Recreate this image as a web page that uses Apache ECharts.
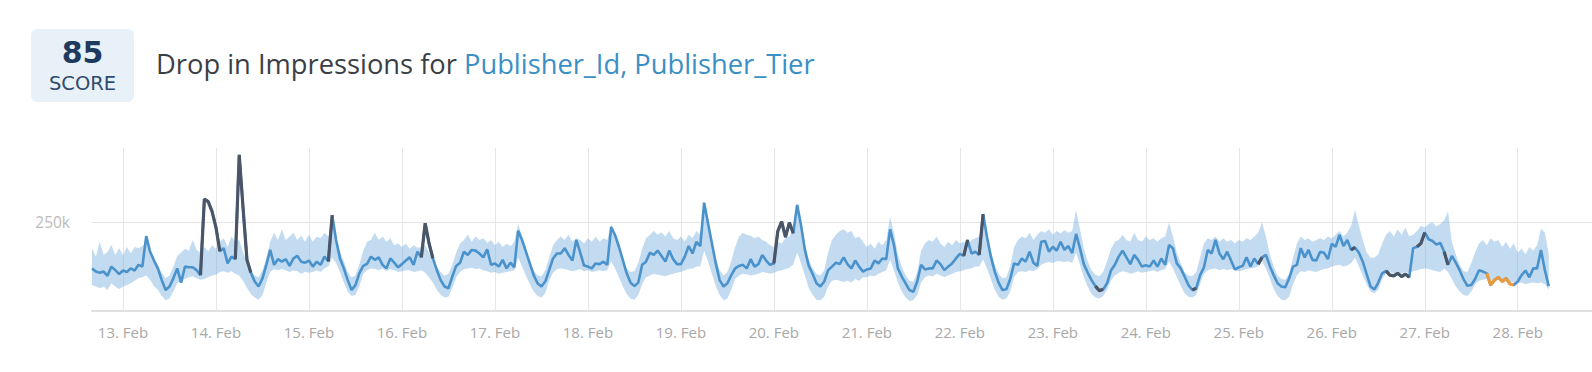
<!DOCTYPE html>
<html>
<head>
<meta charset="utf-8">
<script src="https://cdn.jsdelivr.net/npm/echarts@6/dist/echarts.min.js"></script>
<style>
html,body{margin:0;padding:0;background:#fff;}
#c{width:1592px;height:372px;}
</style>
</head>
<body>
<div id="c"></div>
<script>
// Hourly series, starting 12 Feb 16:00, values in thousands
const startTime = new Date(2024, 1, 12, 16, 0, 0).getTime();
const endTime = new Date(2024, 1, 28, 19, 10, 0).getTime();
const HOUR = 3600000;

const impressions = [
120,111,108,111,99,125,115,104,114,110,120,114,130,125,211,167,142,120,87,59,69,92,120,80,
125,123,123,115,101,315,308,280,235,168,177,134,153,146,440,289,144,108,83,69,92,130,172,130,
146,139,146,127,148,155,139,136,142,125,139,130,153,140,270,200,148,120,87,59,73,106,127,133,
153,144,151,130,120,148,136,123,132,142,151,130,167,151,247,190,148,115,87,69,64,97,127,136,
167,158,172,170,162,151,174,130,134,125,144,120,136,123,226,200,167,134,101,78,69,83,115,148,
162,162,177,158,142,200,165,128,125,120,134,132,139,130,236,214,181,144,106,80,70,80,130,139,
164,158,170,155,139,170,146,132,132,153,183,162,195,183,305,247,191,134,87,69,78,101,120,127,
130,120,146,125,132,158,142,130,134,224,252,208,249,219,299,242,172,127,104,78,69,83,115,125,
136,132,151,132,120,142,125,111,117,120,142,134,148,146,230,186,120,97,78,59,54,83,130,117,
120,120,142,132,115,125,134,148,161,155,200,162,167,158,273,209,153,111,80,59,61,90,134,130,
148,139,167,136,127,195,197,167,181,170,195,172,183,163,217,177,132,108,87,70,57,61,78,114,
130,153,170,151,132,158,144,125,129,125,142,125,148,130,186,177,134,120,97,73,59,64,101,123,
172,162,200,162,146,167,142,117,123,127,151,125,148,132,151,158,127,101,78,69,67,92,125,130,
177,151,172,144,142,167,164,146,189,181,214,183,200,172,179,164,139,104,69,61,80,106,113,101,
99,106,97,104,95,177,181,190,221,202,197,187,192,167,130,155,136,115,90,71,73,90,115,111,
106,73,87,95,83,92,76,73,83,101,114,95,120,120,172,115,70
];

const bandUpper = [
177,153,195,158,167,186,158,177,158,180,162,180,177,183,192,175,150,128,108,92,100,125,155,165,
175,170,200,172,165,180,168,185,175,195,205,180,210,195,200,165,140,115,100,95,115,150,195,220,
200,230,200,210,220,200,212,195,215,195,210,205,220,210,245,200,170,140,110,95,100,130,170,195,
200,220,200,210,195,205,185,190,180,190,175,185,178,180,185,165,145,125,110,100,105,130,165,190,
200,215,195,210,200,205,192,200,185,195,180,190,182,195,245,210,175,140,115,100,98,115,150,185,
200,210,200,215,195,205,200,190,205,195,210,195,205,200,245,215,180,145,120,110,112,135,175,205,
215,225,215,222,210,225,205,200,210,195,215,205,225,215,300,250,195,150,115,100,110,140,180,210,
220,215,212,205,210,200,195,185,180,195,190,205,210,230,300,255,190,145,120,105,100,115,165,200,
215,225,230,220,225,205,210,195,180,190,175,195,185,200,265,220,160,125,100,85,82,110,170,190,
200,195,210,190,180,195,185,200,190,195,185,200,205,210,250,215,170,130,105,92,95,125,180,200,
210,205,220,200,215,225,220,230,215,225,218,228,220,225,285,230,175,140,115,102,98,110,140,175,
195,200,215,200,195,220,200,195,210,200,205,195,205,210,250,210,165,135,110,100,98,110,150,190,
205,200,210,195,205,195,200,190,200,195,205,200,210,220,250,210,160,125,100,90,88,105,150,190,
210,200,205,195,200,205,200,210,205,215,225,210,220,240,285,240,200,165,150,150,160,190,215,225,
210,230,215,235,210,215,225,240,235,245,250,238,245,255,280,195,160,130,112,110,135,165,190,200,
185,205,195,200,180,195,175,190,165,175,160,180,170,185,232,220,160
];

const bandLower = [
73,69,64,69,59,78,69,61,69,73,78,85,92,95,100,88,70,60,42,30,35,55,78,85,
90,95,98,92,88,90,95,100,102,110,112,108,112,105,100,85,65,48,38,32,45,80,110,118,
115,118,115,110,115,112,105,110,108,110,115,110,120,125,150,135,110,80,55,42,45,70,105,115,
120,118,115,120,112,118,115,110,112,115,115,110,112,115,108,95,80,60,45,38,40,65,95,110,
118,120,122,118,120,115,112,108,110,105,108,110,112,115,150,125,100,75,55,42,38,50,85,108,
118,120,118,115,112,115,118,112,115,110,112,115,112,115,140,120,95,70,48,35,32,45,75,95,
100,105,102,100,98,102,105,108,110,115,118,120,125,125,170,140,105,70,45,30,35,60,90,100,
105,103,100,102,105,110,108,105,108,112,115,118,122,130,165,135,100,65,45,32,30,40,70,85,
88,85,82,85,80,90,85,95,95,100,98,105,110,115,145,115,80,55,38,28,30,45,80,95,
100,98,105,100,95,100,105,110,112,115,118,120,125,125,145,120,90,60,40,32,35,55,95,110,
112,110,115,112,118,130,135,138,135,140,140,138,140,135,165,130,95,68,48,38,35,42,60,85,
100,108,112,110,105,108,112,108,110,112,115,110,115,118,140,120,95,72,50,40,38,45,75,105,
115,118,120,115,118,115,118,115,112,115,118,120,122,125,140,120,92,62,42,32,30,40,75,100,
112,110,115,112,110,115,118,120,125,128,130,125,128,135,150,125,100,75,55,50,60,90,105,110,
105,108,105,110,108,112,115,118,120,118,115,112,110,120,110,90,70,55,45,42,55,75,85,88,
90,88,85,90,88,85,82,80,78,80,75,78,80,78,80,75,60
];

// Anomaly index ranges (inclusive)
const spikeRanges = [[28,33],[37,41],[61,62],[85,88],[176,181],[225,226],[229,230],[259,261],[284,285],[301,302],[325,326],[334,340],[342,344],[349,350]];
const dropRanges = [[360,367]];

const xLabels = ['13. Feb','14. Feb','15. Feb','16. Feb','17. Feb','18. Feb','19. Feb','20. Feb','21. Feb','22. Feb','23. Feb','24. Feb','25. Feb','26. Feb','27. Feb','28. Feb'];
const yTickLabel = '250k';
const yTickValue = 250000;

const times = impressions.map((_, i) => startTime + i * HOUR);
const inRanges = (i, rs) => rs.some(r => i >= r[0] && i <= r[1]);
const mainData = impressions.map((v, i) => [times[i], v * 1000]);
const lowerData = bandLower.map((v, i) => [times[i], v * 1000]);
const diffData = bandUpper.map((v, i) => [times[i], (v - bandLower[i]) * 1000]);
const spikeData = impressions.map((v, i) => [times[i], inRanges(i, spikeRanges) ? v * 1000 : null]);
const dropData = impressions.map((v, i) => [times[i], inRanges(i, dropRanges) ? v * 1000 : null]);

const chart = echarts.init(document.getElementById('c'), null, {renderer: 'svg'});
chart.setOption({
  animation: false,
  backgroundColor: '#ffffff',
  graphic: [
    {type: 'rect', shape: {x: 31, y: 29, width: 103, height: 73, r: 6}, style: {fill: '#e8f1f8'}},
    {type: 'text', style: {text: '85', x: 82.5, y: 52.5, textAlign: 'center', textVerticalAlign: 'middle',
      font: 'bold 30px "DejaVu Sans"', fill: '#1f3a5f'}},
    {type: 'text', style: {text: 'SCORE', x: 82.5, y: 83.5, textAlign: 'center', textVerticalAlign: 'middle',
      font: '19.5px "DejaVu Sans"', fill: '#2f4b6d'}},
    {type: 'text', style: {x: 156, y: 63, textVerticalAlign: 'middle',
      text: '{a|Drop in Impressions for }{b|Publisher_Id, Publisher_Tier}',
      rich: {
        a: {fontFamily: 'Open Sans', fontSize: 27.3, fill: '#3b3f45', color: '#3b3f45'},
        b: {fontFamily: 'Open Sans', fontSize: 27.3, fill: '#3a8fc5', color: '#3a8fc5'}
      }}}
  ],
  grid: {left: 92, right: 0, top: 148, bottom: 61, containLabel: false},
  xAxis: {
    type: 'time', min: startTime, max: endTime,
    minInterval: 24 * HOUR, maxInterval: 24 * HOUR,
    axisLine: {show: true, lineStyle: {color: '#e0e0e0', width: 2}},
    axisTick: {show: false},
    splitLine: {show: true, showMinLine: false, showMaxLine: false, lineStyle: {color: '#e6e6e6', width: 1}},
    axisLabel: {
      color: '#a8a8a8', fontSize: 15, fontFamily: 'Open Sans', margin: 13,
      formatter: function (v) { const d = new Date(v); return xLabels[d.getDate() - 13] || ''; }
    }
  },
  yAxis: {
    type: 'value', min: 0, max: 459000, interval: yTickValue,
    axisLine: {show: false}, axisTick: {show: false},
    splitLine: {show: true, showMinLine: false, showMaxLine: false, lineStyle: {color: '#e6e6e6', width: 1}},
    axisLabel: {color: '#bbbbbb', fontSize: 15.5, fontFamily: 'Open Sans', margin: 22,
      formatter: function (v) { return v === yTickValue ? yTickLabel : ''; }}
  },
  series: [
    {type: 'line', data: lowerData, stack: 'band', symbol: 'none', silent: true,
      lineStyle: {opacity: 0}, z: 1},
    {type: 'line', data: diffData, stack: 'band', symbol: 'none', silent: true,
      lineStyle: {opacity: 0}, areaStyle: {color: 'rgba(120,175,222,0.45)', opacity: 1}, z: 1},
    {type: 'line', data: mainData, symbol: 'none', lineStyle: {color: '#4a92cc', width: 2.6}, z: 3},
    {type: 'line', data: spikeData, symbol: 'none', connectNulls: false,
      lineStyle: {color: '#4a5568', width: 3.2}, z: 4},
    {type: 'line', data: dropData, symbol: 'none', connectNulls: false,
      lineStyle: {color: '#e89a3c', width: 3.2}, z: 4}
  ]
});
</script>
</body>
</html>
